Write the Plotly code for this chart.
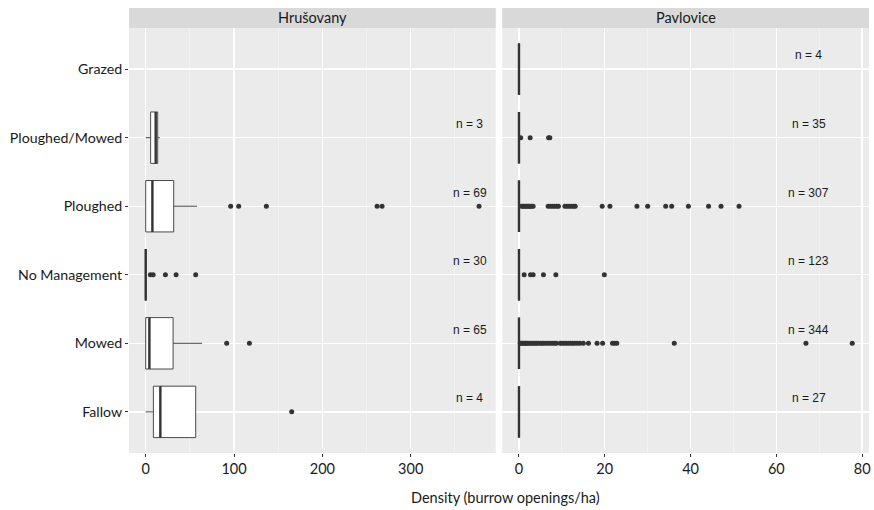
import plotly.graph_objects as go

# ---------------- data ----------------
categories = ["Grazed", "Ploughed/Mowed", "Ploughed", "No Management", "Mowed", "Fallow"]
sites = ["Hrušovany", "Pavlovice"]

# Hrušovany box statistics (None = no data)
hru_lower = [None, 0, 0, 0, 0, 0]
hru_q1 = [None, 5.6, 0, 0, 0, 8.7]
hru_median = [None, 11.3, 7.6, 0, 4.2, 16.6]
hru_q3 = [None, 13.6, 31.7, 0, 31.0, 56.6]
hru_upper = [None, 15.9, 58.2, 0, 63.9, 56.6]
hru_n = [None, 3, 69, 30, 65, 4]

# Pavlovice box statistics
pav_lower = [0, 0, 0, 0, 0, 0]
pav_q1 = [0, 0, 0, 0, 0, 0]
pav_median = [0, 0, 0, 0, 0, 0]
pav_q3 = [0, 0, 0, 0, 0, 0]
pav_upper = [0, 0, 0, 0, 0, 0]
pav_n = [4, 35, 307, 123, 344, 27]

# outliers
hru_out_ploughed = [96.2, 105.3, 136.6, 262.0, 267.6, 377.4]
hru_out_nomgmt = [5.3, 8.4, 22.3, 34.4, 56.6]
hru_out_mowed = [91.7, 117.4]
hru_out_fallow = [165.3]

pav_out_ploughed_mowed = [0.4, 2.6, 6.9, 7.2]
pav_out_ploughed = [0.6, 0.9, 1.2, 1.5, 1.8, 2.1, 2.4, 2.7, 3.0, 3.3, 6.8, 7.3, 7.8, 8.3,
                    8.8, 9.2, 10.7, 11.2, 11.7, 12.2, 12.7, 13.1, 19.4, 21.2, 27.5, 30.0,
                    34.2, 35.6, 39.5, 44.2, 47.1, 51.3]
pav_out_nomgmt = [1.2, 2.7, 3.3, 5.7, 8.6, 19.9]
pav_out_mowed = [0.3, 0.6, 0.9, 1.2, 1.5, 1.8, 2.1, 2.5, 2.9, 3.3, 3.7, 4.1, 4.5, 5.0,
                 5.4, 5.8, 6.3, 6.8, 7.3, 7.8, 8.3, 8.7, 9.6, 10.0, 10.5, 11.0, 11.5,
                 12.0, 12.5, 13.0, 13.6, 14.2, 15.0, 16.2, 18.2, 19.5, 21.8, 22.3, 22.8,
                 36.2, 66.9, 77.7]

hru_outliers = [[], [], hru_out_ploughed, hru_out_nomgmt, hru_out_mowed, hru_out_fallow]
pav_outliers = [[], pav_out_ploughed_mowed, pav_out_ploughed, pav_out_nomgmt, pav_out_mowed, []]

# ---------------- style ----------------
FONT = "Lato"
DARK = "#333333"
BOXW = 0.75
ncat = len(categories)
pos = [ncat - 1 - i for i in range(ncat)]  # top to bottom

W, H = 874, 510
# target screen positions of the plot area
SL, SR, ST, SB = 129, 869, 28.3, 452.7
ML = SL
MT = ST
MR = W - SR
MB = H - SB
plot_w = W - ML - MR
plot_h = H - MT - MB
gap_px = 6.5
dom1 = [0, (plot_w - gap_px) / 2 / plot_w]
dom2 = [(plot_w + gap_px) / 2 / plot_w, 1]

fig = go.Figure()

site_data = [
    (hru_lower, hru_q1, hru_median, hru_q3, hru_upper, hru_n, hru_outliers, "x", 367),
    (pav_lower, pav_q1, pav_median, pav_q3, pav_upper, pav_n, pav_outliers, "x2", 67.5),
]

annotations = []
for lo, q1, md, q3, up, ns, outs, xa, nx in site_data:
    for i in range(ncat):
        if md[i] is None:
            continue
        fig.add_trace(go.Box(
            y=[pos[i]], q1=[q1[i]], median=[md[i]], q3=[q3[i]],
            lowerfence=[lo[i]], upperfence=[up[i]],
            orientation="h", width=BOXW, boxpoints=False,
            fillcolor="white", line=dict(color="#4a4a4a", width=1),
            whiskerwidth=0, xaxis=xa, yaxis="y", showlegend=False, hoverinfo="skip"))
        # thicker median line like ggplot
        fig.add_trace(go.Scatter(
            x=[md[i], md[i]], y=[pos[i] - BOXW / 2, pos[i] + BOXW / 2],
            mode="lines", line=dict(color=DARK, width=2.4),
            xaxis=xa, yaxis="y", showlegend=False, hoverinfo="skip"))
        if outs[i]:
            fig.add_trace(go.Scatter(
                x=outs[i], y=[pos[i]] * len(outs[i]), mode="markers",
                marker=dict(color=DARK, size=5),
                xaxis=xa, yaxis="y", showlegend=False, hoverinfo="skip"))
    for i in range(ncat):
        if ns[i] is None:
            continue
        annotations.append(dict(
            x=nx, y=pos[i] + 0.2, xref=xa, yref="y", text=f"n = {ns[i]}",
            showarrow=False, font=dict(family="Liberation Sans, Arial", size=12, color="#1a1a1a"),
            xanchor="center", yanchor="middle"))

# strips
strip_h = 20 / plot_h
shapes = []
for dom, name in zip([dom1, dom2], sites):
    shapes.append(dict(type="rect", xref="paper", yref="paper", x0=dom[0], x1=dom[1],
                       y0=1, y1=1 + strip_h, fillcolor="#D9D9D9", line=dict(width=0), layer="below"))
    annotations.append(dict(x=(dom[0] + dom[1]) / 2, y=1 + strip_h / 2, xref="paper", yref="paper",
                            text=name, showarrow=False, xanchor="center", yanchor="middle",
                            font=dict(family=FONT, size=14.5, color="#1a1a1a")))

annotations.append(dict(x=(505 - SL) / plot_w, y=-(497 - SB) / plot_h, xref="paper", yref="paper",
                        text="Density (burrow openings/ha)", showarrow=False,
                        xanchor="center", yanchor="middle",
                        font=dict(family=FONT, size=14.5, color="#1a1a1a")))

xcommon = dict(showgrid=True, gridcolor="white", gridwidth=1.4, zeroline=False,
               ticks="outside", ticklen=3, tickcolor=DARK, tickwidth=1, automargin=False,
               ticklabeloverflow="allow",
               tickfont=dict(family=FONT, size=14.5, color="#1a1a1a"), showline=False)

fig.update_layout(
    width=W, height=H,
    margin=dict(l=ML, r=MR, t=MT, b=MB, autoexpand=False),
    paper_bgcolor="white", plot_bgcolor="#EBEBEB",
    xaxis=dict(domain=dom1, range=[-18.9, 396.3], tickvals=[0, 100, 200, 300],
               minor=dict(tickvals=[50, 150, 250, 350], showgrid=True, gridcolor="#F5F5F5", gridwidth=0.7, ticks=""),
               anchor="y", **xcommon),
    xaxis2=dict(domain=dom2, range=[-3.9, 81.6], tickvals=[0, 20, 40, 60, 80],
                minor=dict(tickvals=[10, 30, 50, 70], showgrid=True, gridcolor="#F5F5F5", gridwidth=0.7, ticks=""),
                anchor="y", **xcommon),
    yaxis=dict(range=[-0.6, ncat - 0.4], tickvals=pos, ticktext=categories,
               showgrid=True, gridcolor="white", gridwidth=1.4, zeroline=False, automargin=False,
               ticks="outside", ticklen=3, tickcolor=DARK, tickwidth=1, ticklabeloverflow="allow",
               tickfont=dict(family=FONT, size=14.2, color="#1a1a1a")),
    shapes=shapes,
    annotations=annotations,
    showlegend=False,
    hovermode=False,
)

fig.write_html("out.html",
               config={"displayModeBar": False, "staticPlot": True},
               post_script="document.body.style.margin='0';document.body.style.overflow='hidden';")
